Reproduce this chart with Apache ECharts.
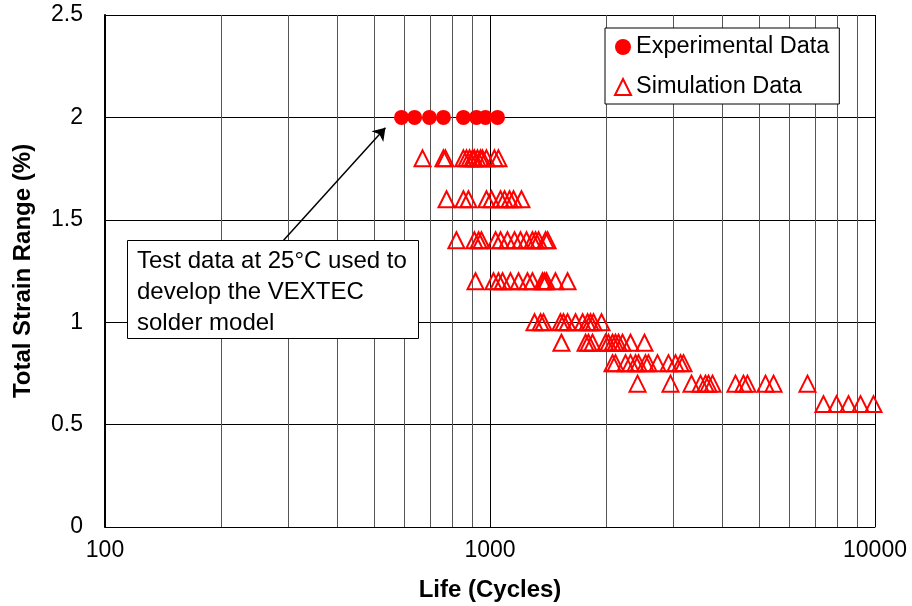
<!DOCTYPE html>
<html>
<head>
<meta charset="utf-8">
<script src="https://cdn.jsdelivr.net/npm/echarts@6/dist/echarts.min.js"></script>
<style>
  html, body { margin: 0; padding: 0; background: #fff; }
  #chart { width: 912px; height: 606px; }
</style>
</head>
<body>
<div id="chart"></div>
<script>
// experimental points, all at 2 % strain
const expStrain = 2
const expLife = [589, 637, 696, 757, 853, 922, 973, 1046]

// simulation points, one array of lives per strain level
const strainLevels = [1.8, 1.6, 1.4, 1.2, 1.0, 0.9, 0.8, 0.7, 0.6]
const life18 = [668, 757, 766, 853, 869, 885, 901, 911, 928, 945, 956, 979, 1027, 1052]
const life16 = [771, 853, 879, 979, 1009, 1065, 1091, 1124, 1151, 1207]
const life14 = [818, 911, 934, 950, 1034, 1065, 1110, 1158, 1200, 1244, 1289, 1313, 1337, 1394, 1411]
const life12 = [917, 1021, 1052, 1078, 1130, 1186, 1251, 1289, 1369, 1385, 1402, 1479, 1590]
const life10 = [1305, 1353, 1377, 1524, 1552, 1590, 1668, 1740, 1792, 1824, 1857, 1948]
const life09 = [1533, 1771, 1802, 1846, 1995, 2031, 2081, 2118, 2157, 2209, 2317, 2519]
const life08 = [2081, 2118, 2249, 2317, 2388, 2431, 2534, 2580, 2723, 2908, 3033, 3125, 3181]
const life07 = [2417, 2943, 3337, 3522, 3628, 3694, 3784, 4341, 4553, 4663, 5195, 5451, 6678]
const life06 = [7348, 7943, 8535, 9170, 9911]
const simLives = [life18, life16, life14, life12, life10, life09, life08, life07, life06]

// callout
const noteLines = ['Test data at 25°C used to', 'develop the VEXTEC', 'solder model']
const arrowFrom = [291, 1.4]
const arrowTo = [535, 1.95]

const expData = expLife.map(l => [l, expStrain])
const simData = []
strainLevels.forEach((s, i) => {
  simLives[i].forEach(l => simData.push([l, s]))
})

const font = '"Liberation Sans", Arial, sans-serif'
const chart = echarts.init(document.getElementById('chart'))

chart.setOption({
  animation: false,
  backgroundColor: '#fff',
  grid: {
    left: 105, right: 37, top: 15, bottom: 79,
    containLabel: false,
    outerBoundsMode: 'none'
  },
  legend: {
    orient: 'vertical',
    left: 605, top: 28,
    backgroundColor: '#fff',
    borderColor: '#000',
    borderWidth: 1,
    borderRadius: 0,
    padding: [7, 10, 5, 9],
    itemGap: 16,
    itemWidth: 16,
    itemHeight: 16,
    textStyle: { fontFamily: font, fontSize: 23.5, color: '#000' },
    data: ['Experimental Data', 'Simulation Data'],
    z: 20
  },
  xAxis: {
    type: 'log',
    logBase: 10,
    min: 100,
    max: 10000,
    name: 'Life (Cycles)',
    nameLocation: 'middle',
    nameGap: 51,
    nameTextStyle: { fontFamily: font, fontSize: 24, fontWeight: 'bold', color: '#000' },
    axisLine: { show: true, lineStyle: { color: '#000', width: 1 } },
    axisTick: { show: false },
    axisLabel: {
      fontFamily: font, fontSize: 23, color: '#000', margin: 12,
      formatter: v => String(v)
    },
    splitLine: { show: true, lineStyle: { color: '#000', width: 1 } },
    minorTick: { show: false, splitNumber: 9 },
    minorSplitLine: { show: true, lineStyle: { color: '#555', width: 1 } }
  },
  yAxis: {
    type: 'value',
    min: 0,
    max: 2.5,
    interval: 0.5,
    name: 'Total Strain Range (%)',
    nameLocation: 'middle',
    nameGap: 70,
    nameTextStyle: { fontFamily: font, fontSize: 24, fontWeight: 'bold', color: '#000' },
    axisLine: { show: true, lineStyle: { color: '#000', width: 2 } },
    axisTick: { show: false },
    axisLabel: { fontFamily: font, fontSize: 23, color: '#000', margin: 22 },
    splitLine: { show: true, lineStyle: { color: '#000', width: 1 } }
  },
  graphic: [
    {
      type: 'rect',
      left: 127, top: 240,
      shape: { width: 291, height: 98 },
      style: { fill: '#fff', stroke: '#000', lineWidth: 1 },
      z: 10
    },
    {
      type: 'text',
      left: 137, top: 246,
      style: {
        text: noteLines.join('\n'),
        font: '24px ' + font,
        fill: '#000',
        lineHeight: 31
      },
      z: 11
    }
  ],
  series: [
    {
      name: 'Experimental Data',
      type: 'scatter',
      symbol: 'circle',
      symbolSize: 15,
      itemStyle: { color: '#ff0000', opacity: 1 },
      data: expData,
      z: 3,
      markLine: {
        silent: true,
        symbol: ['none', 'arrow'],
        symbolSize: 12,
        label: { show: false },
        lineStyle: { color: '#000', width: 1.5, type: 'solid' },
        data: [[{ coord: arrowFrom }, { coord: arrowTo }]],
        z: 12
      }
    },
    {
      name: 'Simulation Data',
      type: 'scatter',
      symbol: 'triangle',
      symbolSize: 16,
      itemStyle: { color: 'rgba(255,255,255,0)', borderColor: '#ff0000', borderWidth: 2, opacity: 1 },
      data: simData,
      z: 2
    }
  ]
})
</script>
</body>
</html>
